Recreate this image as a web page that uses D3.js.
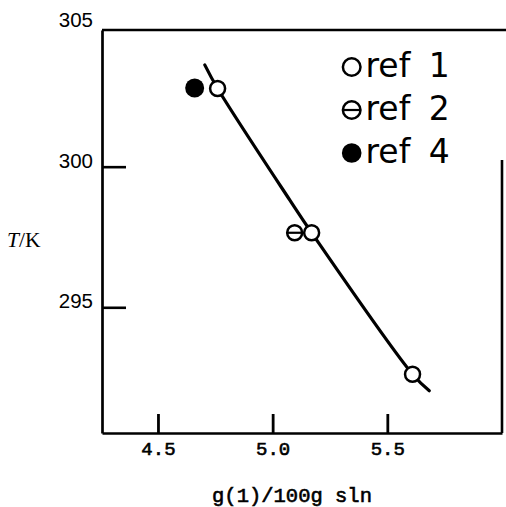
<!DOCTYPE html>
<html>
<head>
<meta charset="utf-8">
<script src="https://cdn.jsdelivr.net/npm/d3@7"></script>
<style>
  html, body { margin: 0; padding: 0; background: #fff; }
  svg { display: block; }
</style>
</head>
<body>
<script>
// Solubility data: temperature vs g solute per 100 g solution
const ref1X = [4.760, 5.170, 5.610];
const ref1T = [302.78, 297.65, 292.62];
const ref2X = [5.096];
const ref2T = [297.65];
const ref4X = [4.660];
const ref4T = [302.80];

// Smoothed solubility curve drawn through the reference 1 points
const fitX = [4.704, 4.760, 5.075, 5.170, 5.610, 5.683];
const fitT = [303.62, 302.78, 298.81, 297.65, 292.62, 292.03];

const xTicks = [4.5, 5.0, 5.5];
const yTicks = [295, 300, 305];
const xDomain = [4.256, 6.0];
const yDomain = [290.53, 304.86];

const legendLabels = ["ref 1", "ref 2", "ref 4"];
const legendKinds = ["open", "theta", "filled"];

const W = 506, H = 507;
const plotLeft = 102, plotRight = 502, plotTop = 30, plotBottom = 433;

const svg = d3.select("body").append("svg")
  .attr("width", W).attr("height", H);

const x = d3.scaleLinear().domain(xDomain).range([plotLeft, plotRight]);
const y = d3.scaleLinear().domain(yDomain).range([plotBottom, plotTop]);

// Frame: top edge runs to the page edge, right edge only covers the lower part
svg.append("line")
  .attr("x1", plotLeft).attr("x2", W).attr("y1", plotTop).attr("y2", plotTop)
  .attr("stroke", "#000").attr("stroke-width", 2.3);
svg.append("line")
  .attr("x1", plotRight).attr("x2", plotRight).attr("y1", 160).attr("y2", plotBottom)
  .attr("stroke", "#000").attr("stroke-width", 2.6);

const monoFont = "'Liberation Mono', 'DejaVu Sans Mono', monospace";

// X axis
const xAxis = d3.axisBottom(x)
  .tickValues(xTicks)
  .tickFormat(d3.format(".1f"))
  .tickSizeInner(-19)
  .tickSizeOuter(0)
  .tickPadding(9);
const gx = svg.append("g").attr("transform", `translate(0,${plotBottom})`).call(xAxis);
gx.select(".domain").attr("stroke", "#000").attr("stroke-width", 2.6);
gx.selectAll(".tick line").attr("stroke", "#000").attr("stroke-width", 2.8);
gx.selectAll(".tick text")
  .attr("fill", "#000")
  .attr("stroke", "#000")
  .attr("stroke-width", 0.6)
  .style("font-family", monoFont)
  .style("font-size", "19px");

// Y axis
const yAxis = d3.axisLeft(y)
  .tickValues(yTicks)
  .tickFormat(d3.format("d"))
  .tickSizeInner(-24)
  .tickSizeOuter(0)
  .tickPadding(9);
const gy = svg.append("g").attr("transform", `translate(${plotLeft},0)`).call(yAxis);
gy.select(".domain").attr("stroke", "#000").attr("stroke-width", 2.7);
gy.selectAll(".tick line")
  .attr("stroke", "#000").attr("stroke-width", 2.6)
  .attr("display", d => (y(d) < plotTop + 2 ? "none" : null));
gy.selectAll(".tick text")
  .attr("fill", "#000")
  .attr("dy", "0.02em")
  .style("font-family", "'Liberation Sans', Arial, sans-serif")
  .style("font-size", "20.5px");

// Axis titles
svg.append("text")
  .attr("x", 292).attr("y", 502)
  .attr("text-anchor", "middle")
  .attr("stroke", "#000")
  .attr("stroke-width", 0.6)
  .style("font-family", monoFont)
  .style("font-size", "20.5px")
  .text("g(1)/100g sln");

const yTitle = svg.append("text")
  .attr("x", 7).attr("y", 247)
  .style("font-family", "'Liberation Serif', 'DejaVu Serif', serif")
  .style("font-size", "21.5px");
yTitle.append("tspan").style("font-style", "italic").text("T");
yTitle.append("tspan").text("/K");

// Curve
const fit = fitX.map((v, i) => [v, fitT[i]]);
svg.append("path")
  .datum(fit)
  .attr("fill", "none")
  .attr("stroke", "#000")
  .attr("stroke-width", 3.2)
  .attr("stroke-linecap", "round")
  .attr("d", d3.line().x(d => x(d[0])).y(d => y(d[1])).curve(d3.curveCatmullRom));

// Marker drawing helper
function marker(g, cx, cy, kind, r) {
  if (kind === "filled") {
    g.append("circle").attr("cx", cx).attr("cy", cy).attr("r", r + 1)
      .attr("fill", "#000");
  } else {
    g.append("circle").attr("cx", cx).attr("cy", cy).attr("r", r)
      .attr("fill", "#fff").attr("stroke", "#000").attr("stroke-width", 2.5);
    if (kind === "theta") {
      g.append("line")
        .attr("x1", cx - r).attr("x2", cx + r).attr("y1", cy).attr("y2", cy)
        .attr("stroke", "#000").attr("stroke-width", 2.2);
    }
  }
}

const pts = svg.append("g");
ref1X.forEach((v, i) => marker(pts, x(v), y(ref1T[i]), "open", 7.5));
ref2X.forEach((v, i) => marker(pts, x(v), y(ref2T[i]), "theta", 7.5));
ref4X.forEach((v, i) => marker(pts, x(v), y(ref4T[i]), "filled", 8.5));

// Legend
const lg = svg.append("g");
legendLabels.forEach((lab, i) => {
  const base = 77 + i * 43;
  marker(lg, 351.7, base - 10, legendKinds[i], 8.8);
  lg.append("text")
    .attr("x", 365.5).attr("y", base)
    .style("font-family", "'DejaVu Sans', sans-serif")
    .style("font-size", "33px")
    .style("word-spacing", "8px")
    .style("white-space", "pre")
    .attr("xml:space", "preserve")
    .text(lab);
});
</script>
</body>
</html>
